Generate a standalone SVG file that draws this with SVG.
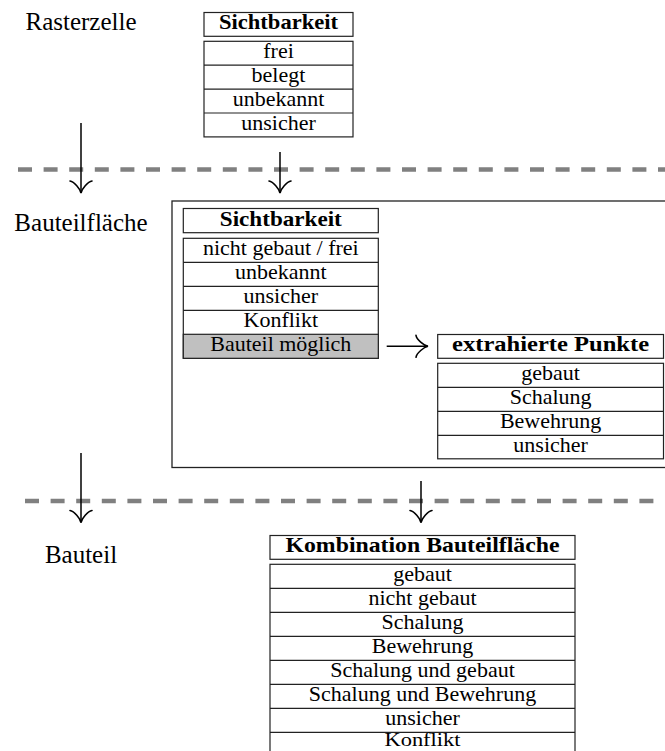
<svg xmlns="http://www.w3.org/2000/svg" width="665" height="751" viewBox="0 0 665 751">
<style>
text{font-family:"Liberation Serif","Times New Roman",serif;fill:#000;text-anchor:middle}
.lbl{font-size:25px}
.cell{font-size:22px}
.hd{font-size:22px;font-weight:bold}
.box{fill:#fff;stroke:#222;stroke-width:1.2}
.sep{stroke:#222;stroke-width:1.2}
.dash{stroke:#808080;stroke-width:4.5;stroke-dasharray:14 11.6;fill:none}
.arr{stroke:#000;stroke-width:1.5;fill:none}
</style>
<defs>
<marker id="to" markerUnits="userSpaceOnUse" markerWidth="30" markerHeight="30" refX="15" refY="15" orient="auto" viewBox="0 0 30 30">
<path d="M3 4 C3.6 8.1 10.9 14.3 15 15 C10.9 15.7 3.6 21.9 3 26" stroke="#000" stroke-width="1.6" fill="none" stroke-linecap="round"/>
</marker>
</defs>

<g id="labels">
<text class="lbl" x="81" y="30">Rasterzelle</text>
<text class="lbl" x="81" y="231">Bauteilfläche</text>
<text class="lbl" x="81" y="563">Bauteil</text>
</g>

<g id="separators">
<line class="dash" x1="18" y1="169.5" x2="670" y2="169.5"/>
<line class="dash" x1="25" y1="501" x2="670" y2="501"/>
</g>

<g id="stage-box">
<rect x="172" y="201" width="520" height="266.5" fill="none" stroke="#222" stroke-width="1.3"/>
</g>

<g id="rasterzelle-table">
<rect class="box" x="204" y="12.5" width="149" height="23.8"/>
<text class="hd" x="278.5" y="29.3" textLength="119" lengthAdjust="spacingAndGlyphs">Sichtbarkeit</text>
<rect class="box" x="204" y="41.3" width="149" height="95.6"/>
<line class="sep" x1="204" y1="65.2" x2="353" y2="65.2"/>
<line class="sep" x1="204" y1="89.1" x2="353" y2="89.1"/>
<line class="sep" x1="204" y1="113" x2="353" y2="113"/>
<text class="cell" x="278.5" y="58.3">frei</text>
<text class="cell" x="278.5" y="82.2">belegt</text>
<text class="cell" x="278.5" y="106.1">unbekannt</text>
<text class="cell" x="278.5" y="130">unsicher</text>
</g>

<g id="bauteilflaeche-table">
<rect class="box" x="183.3" y="208.5" width="195" height="24.2"/>
<text class="hd" x="280.8" y="225.5" textLength="122" lengthAdjust="spacingAndGlyphs">Sichtbarkeit</text>
<rect class="box" x="183.3" y="238.3" width="195" height="120"/>
<rect x="183.3" y="334.3" width="195" height="24" fill="#c0c0c0" stroke="#222" stroke-width="1.2"/>
<line class="sep" x1="183.3" y1="262.3" x2="378.3" y2="262.3"/>
<line class="sep" x1="183.3" y1="286.3" x2="378.3" y2="286.3"/>
<line class="sep" x1="183.3" y1="310.3" x2="378.3" y2="310.3"/>
<text class="cell" x="280.8" y="255.3">nicht gebaut / frei</text>
<text class="cell" x="280.8" y="279.3">unbekannt</text>
<text class="cell" x="280.8" y="303.3">unsicher</text>
<text class="cell" x="280.8" y="327.3">Konflikt</text>
<text class="cell" x="280.8" y="351.3">Bauteil möglich</text>
</g>

<g id="punkte-table">
<rect class="box" x="437.7" y="334.5" width="225.8" height="23.8"/>
<text class="hd" x="550.6" y="351.3" textLength="197" lengthAdjust="spacingAndGlyphs">extrahierte Punkte</text>
<rect class="box" x="437.7" y="363.3" width="225.8" height="95.5"/>
<line class="sep" x1="437.7" y1="387.3" x2="663.5" y2="387.3"/>
<line class="sep" x1="437.7" y1="411.3" x2="663.5" y2="411.3"/>
<line class="sep" x1="437.7" y1="435.3" x2="663.5" y2="435.3"/>
<text class="cell" x="550.6" y="380.3">gebaut</text>
<text class="cell" x="550.6" y="404.3">Schalung</text>
<text class="cell" x="550.6" y="428.3">Bewehrung</text>
<text class="cell" x="550.6" y="452.3">unsicher</text>
</g>

<g id="bauteil-table">
<rect class="box" x="270" y="535.5" width="305" height="23.8"/>
<text class="hd" x="422.5" y="552.3" textLength="274" lengthAdjust="spacingAndGlyphs">Kombination Bauteilfläche</text>
<rect class="box" x="270" y="564.3" width="305" height="192"/>
<line class="sep" x1="270" y1="588.3" x2="575" y2="588.3"/>
<line class="sep" x1="270" y1="612.3" x2="575" y2="612.3"/>
<line class="sep" x1="270" y1="636.3" x2="575" y2="636.3"/>
<line class="sep" x1="270" y1="660.3" x2="575" y2="660.3"/>
<line class="sep" x1="270" y1="684.3" x2="575" y2="684.3"/>
<line class="sep" x1="270" y1="708.3" x2="575" y2="708.3"/>
<line class="sep" x1="270" y1="732.3" x2="575" y2="732.3"/>
<text class="cell" x="422.5" y="581.3">gebaut</text>
<text class="cell" x="422.5" y="605.3">nicht gebaut</text>
<text class="cell" x="422.5" y="629.3">Schalung</text>
<text class="cell" x="422.5" y="653.3">Bewehrung</text>
<text class="cell" x="422.5" y="677.3">Schalung und gebaut</text>
<text class="cell" x="422.5" y="701.3">Schalung und Bewehrung</text>
<text class="cell" x="422.5" y="724.6">unsicher</text>
<text class="cell" x="422.5" y="746.4" style="font-size:19px" textLength="76" lengthAdjust="spacingAndGlyphs">Konflikt</text>
</g>

<g id="connectors">
<line class="arr" x1="81" y1="123" x2="81" y2="193" marker-end="url(#to)"/>
<line class="arr" x1="280" y1="152" x2="280" y2="193" marker-end="url(#to)"/>
<line class="arr" x1="386.7" y1="346.3" x2="428" y2="346.3" marker-end="url(#to)"/>
<line class="arr" x1="81" y1="453" x2="81" y2="522.5" marker-end="url(#to)"/>
<line class="arr" x1="421" y1="481" x2="421" y2="522.5" marker-end="url(#to)"/>
</g>
</svg>
